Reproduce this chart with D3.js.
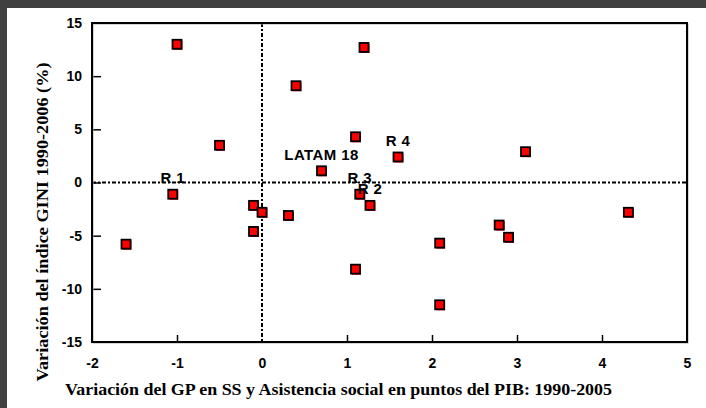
<!DOCTYPE html>
<html><head><meta charset="utf-8">
<script src="https://cdn.jsdelivr.net/npm/d3@7/dist/d3.min.js"></script>
<style>
html,body{margin:0;padding:0;background:#fff;}
svg{display:block;}
</style></head>
<body>
<svg id="chart" width="706" height="408"></svg>
<script>
// Data: x = change in social spending (SS + social assistance, pts of GDP 1990-2005), y = change in GINI (%)
const xValues = [-1.0, 1.2, 0.4, -0.5, 1.1, 1.6, 3.1, 0.7, -1.05, 1.15, 1.27, -0.1, 0.0, 0.31, -0.1, -1.6, 2.09, 2.79, 2.9, 4.31, 1.1, 2.09];
const yValues = [13.0, 12.7, 9.1, 3.5, 4.3, 2.4, 2.9, 1.1, -1.1, -1.1, -2.15, -2.15, -2.8, -3.1, -4.6, -5.8, -5.7, -4.0, -5.15, -2.8, -8.15, -11.5];
const pointLabels = ["", "", "", "", "", "R 4", "", "LATAM 18", "R 1", "R 3", "R 2", "", "", "", "", "", "", "", "", "", "", ""];
const xTicks = [-2, -1, 0, 1, 2, 3, 4, 5];
const yTicks = [-15, -10, -5, 0, 5, 10, 15];
const xTitle = "Variación del GP en SS y Asistencia social en puntos del PIB: 1990-2005";
const yTitle = "Variación del índice GINI 1990-2006 (%)";

const svg = d3.select("#chart");
// dark frame bands (top and left)
svg.append("rect").attr("x",0).attr("y",0).attr("width",706).attr("height",8).attr("fill","#404040");
svg.append("rect").attr("x",0).attr("y",0).attr("width",7).attr("height",408).attr("fill","#404040");

const m = {left:92, top:23, right:687, bottom:342};
const x = d3.scaleLinear().domain([-2,5]).range([m.left, m.right]);
const y = d3.scaleLinear().domain([-15,15]).range([m.bottom, m.top]);

const tickFont = "'Liberation Sans', Arial, sans-serif";
const serif = "'Liberation Serif', 'Times New Roman', serif";
const fmt = d => String(d); // plain hyphen-minus like the reference

// zero reference lines (dash-dot)
svg.append("line").attr("x1",x(-2)).attr("x2",x(5)).attr("y1",y(0)).attr("y2",y(0))
  .attr("stroke","#000").attr("stroke-width",2).attr("stroke-dasharray","4,2,2,2");
svg.append("line").attr("x1",x(0)).attr("x2",x(0)).attr("y1",y(15)).attr("y2",y(-15))
  .attr("stroke","#000").attr("stroke-width",2).attr("stroke-dasharray","4,2,2,2");

// axes with inner ticks
const xAxis = d3.axisBottom(x).tickValues(xTicks).tickSize(-7).tickPadding(16).tickFormat(fmt);
const gx = svg.append("g").attr("transform",`translate(0,${m.bottom})`).call(xAxis);
gx.select(".domain").remove();
gx.selectAll(".tick line").filter(d => d===-2 || d===0 || d===5).remove();
gx.selectAll(".tick line").attr("stroke","#000").attr("stroke-width",1.5);
gx.selectAll("text").attr("font-family",tickFont).attr("font-weight","bold").attr("font-size",14).attr("fill","#000");

const yAxis = d3.axisLeft(y).tickValues(yTicks).tickSize(-9).tickPadding(10).tickFormat(fmt);
const gy = svg.append("g").attr("transform",`translate(${m.left},0)`).call(yAxis);
gy.select(".domain").remove();
gy.selectAll(".tick line").filter(d => d===15 || d===-15).remove();
gy.selectAll(".tick line").attr("stroke","#000").attr("stroke-width",1.5);
gy.selectAll("text").attr("font-family",tickFont).attr("font-weight","bold").attr("font-size",14).attr("fill","#000");

// plot frame
svg.append("rect").attr("x",m.left+1).attr("y",m.top+1).attr("width",m.right-m.left).attr("height",m.bottom-m.top)
  .attr("fill","none").attr("stroke","#aaa").attr("stroke-width",1);
svg.append("rect").attr("x",m.left).attr("y",m.top).attr("width",m.right-m.left).attr("height",m.bottom-m.top)
  .attr("fill","none").attr("stroke","#000").attr("stroke-width",2);

const pts = xValues.map((v,i)=>({x:v, y:yValues[i], label:pointLabels[i]}));

// markers: red shadow + black-bordered red square
const g = svg.append("g");
g.selectAll("rect.sh").data(pts).enter().append("rect").attr("class","sh")
  .attr("x",d=>x(d.x)-3.5).attr("y",d=>y(d.y)-3.5).attr("width",9).attr("height",9).attr("fill","#ff0000");
g.selectAll("rect.mk").data(pts).enter().append("rect").attr("class","mk")
  .attr("x",d=>x(d.x)-4.5).attr("y",d=>y(d.y)-4.5).attr("width",9).attr("height",9)
  .attr("fill","#ff0000").attr("stroke","#000").attr("stroke-width",1.8);

// point labels
svg.selectAll("text.lbl").data(pts.filter(d=>d.label)).enter().append("text").attr("class","lbl")
  .attr("x",d=>x(d.x)).attr("y",d=>y(d.y)-11).attr("text-anchor","middle")
  .attr("font-family",tickFont).attr("font-weight","bold").attr("font-size",15).attr("letter-spacing","0.4px")
  .attr("fill","#000").text(d=>d.label);

// axis titles
svg.append("text").attr("x",65).attr("y",395).attr("font-family",serif).attr("font-weight","bold")
  .attr("font-size",17).attr("fill","#000").attr("textLength",547).attr("lengthAdjust","spacingAndGlyphs").text(xTitle);
svg.append("text").attr("transform","translate(48,222) rotate(-90)").attr("text-anchor","middle")
  .attr("font-family",serif).attr("font-weight","bold").attr("font-size",17).attr("fill","#000")
  .attr("textLength",319).attr("lengthAdjust","spacingAndGlyphs").text(yTitle);
</script>
</body></html>
